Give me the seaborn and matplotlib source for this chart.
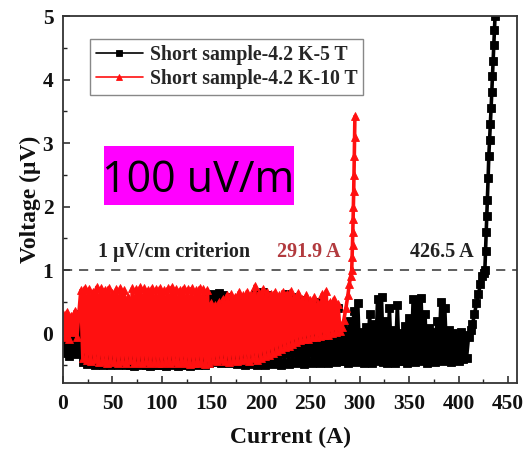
import numpy as np
import pandas as pd
import matplotlib
matplotlib.use("Agg")
import matplotlib.pyplot as plt
from matplotlib.patches import Rectangle
import seaborn as sns

sns.set_theme(style="white")
plt.rcParams["font.family"] = ["Liberation Serif", "DejaVu Serif"]
plt.rcParams["font.weight"] = "bold"

# ---- 5 T run: flat noisy baseline sampled every 2 A, then the transition ----
i5_noise = np.arange(0, 411, 2)
v5_noise = [
    -0.12, -0.30, -0.15, -0.35, -0.10, -0.28, -0.18, -0.33, -0.20,
    0.30, -0.45, 0.25, -0.48, 0.35, -0.46, 0.28, -0.49, 0.32, -0.47, 0.20, -0.50, 0.30, -0.48, 0.26, -0.49, 0.33, -0.47, 0.29, -0.50,
    0.31, -0.48, 0.27, -0.50, 0.34, -0.49, 0.25, -0.51, 0.30, -0.48, 0.28, -0.50, 0.32, -0.49, 0.26, -0.51, 0.30, -0.50, 0.27, -0.49,
    0.33, -0.50, 0.29, -0.51, 0.31, -0.48, 0.26, -0.50, 0.34, -0.51, 0.30, -0.49, 0.28, -0.50, 0.32, -0.51, 0.27, -0.48, 0.30, -0.50,
    0.35, -0.47, 0.45, -0.50, 0.55, -0.46,
    0.62, -0.45, 0.58, -0.43, 0.64, -0.46, 0.60, -0.44, 0.57, -0.47, 0.52,
    -0.45, 0.40, -0.48, 0.45, -0.46, 0.50, -0.49, 0.42, -0.47, 0.55, -0.48, 0.62, -0.50, 0.58, -0.47, 0.66, -0.49, 0.60, -0.46, 0.52,
    -0.48, 0.45, -0.47, 0.50, -0.49, 0.55, -0.46, 0.62, -0.48, 0.58, -0.45, 0.50, -0.47, 0.46, -0.44, 0.52, -0.48, 0.40, -0.45, 0.48,
    -0.46, 0.42, -0.44, 0.50, -0.47, 0.45, -0.43, 0.38, -0.46, 0.44, -0.42, 0.35, -0.45, 0.40, -0.43,
    0.10, -0.44, 0.05, -0.46, 0.20, -0.42, 0.35, -0.45, 0.48, -0.40,
    0.02, -0.47, 0.10, -0.43, 0.30, -0.46, 0.15, -0.44, 0.55, -0.42,
    0.57, -0.45, 0.20, -0.47, 0.40, -0.41, 0.05, -0.46, 0.45, -0.43,
    0.00, -0.44, 0.12, -0.47, 0.25, -0.42, 0.55, -0.45, 0.50, -0.40,
    0.56, -0.44, 0.30, -0.46, 0.08, -0.43, 0.02, -0.45, 0.20, -0.41,
    0.49, -0.44, 0.40, -0.42, 0.05, -0.45, 0.00, -0.40, -0.05, -0.43,
    0.02, -0.40, -0.02, -0.38, -0.05,
]
i5_rise = [412, 414, 416, 418, 420, 422, 424, 425.5, 426.5, 427.2, 427.8, 428.4,
           429.0, 429.8, 430.5, 431.3, 432.0, 432.8, 433.5, 434.2, 434.9, 435.6, 436.2, 436.8]
v5_rise = [0.05, 0.15, 0.30, 0.48, 0.62, 0.78, 0.90, 0.96, 1.00, 1.30, 1.60, 1.85,
           2.10, 2.45, 2.80, 3.05, 3.30, 3.55, 3.80, 4.05, 4.30, 4.55, 4.78, 5.00]

# ---- 10 T run ----
i10_noise = np.arange(0, 281, 2)
v10_noise = [
    0.30, -0.05, 0.34, -0.08, 0.28, 0.02, 0.35, -0.06, 0.32,
    0.68, -0.38, 0.72, -0.42, 0.70, -0.44, 0.66, -0.40, 0.73, -0.45,
    0.71, -0.43, 0.69, -0.46, 0.72, -0.41, 0.64, -0.45, 0.70, -0.47,
    0.72, -0.44, 0.68, -0.46, 0.58, -0.42, 0.71, -0.47, 0.70, -0.45,
    0.73, -0.46, 0.71, -0.44, 0.69, -0.47, 0.72, -0.45, 0.70, -0.46,
    0.72, -0.47, 0.68, -0.45, 0.71, -0.46, 0.73, -0.44, 0.70, -0.47,
    0.69, -0.45, 0.72, -0.46, 0.70, -0.48, 0.71, -0.46, 0.68, -0.47,
    0.72, -0.45, 0.70, -0.48, 0.69, -0.46,
    0.48, -0.42, 0.45, -0.44, 0.50, -0.40, 0.55, -0.43, 0.60, -0.45,
    0.62, -0.41, 0.58, -0.44, 0.65, -0.42, 0.60, -0.40, 0.66, -0.43,
    0.62, -0.39, 0.75, -0.41, 0.64, -0.38,
    0.70, -0.36, 0.66, -0.34, 0.62, -0.30, 0.65, -0.27, 0.60, -0.25,
    0.66, -0.22, 0.63, -0.20, 0.67, -0.16, 0.58, -0.13, 0.64, -0.11,
    0.55, -0.09, 0.60, -0.08, 0.52, -0.06, 0.57, -0.05, 0.48, -0.04,
    0.62, -0.03, 0.67, -0.02, 0.50, 0.00, 0.55, 0.02, 0.46, 0.04,
]
i10_rise = [282, 284, 286, 288, 289.5, 290.8, 291.9, 292.3, 292.7, 293.0, 293.3,
            293.6, 293.9, 294.2, 294.5, 294.8, 295.1]
v10_rise = [0.10, 0.22, 0.40, 0.60, 0.78, 0.90, 1.00, 1.20, 1.40, 1.60, 1.80,
            2.00, 2.25, 2.50, 2.80, 3.10, 3.42]

labels = ["Short sample-4.2 K-5 T", "Short sample-4.2 K-10 T"]
ic_values = [426.5, 291.9]
criterion = 1.0

df5 = pd.DataFrame({"Current": np.concatenate([i5_noise, i5_rise]),
                    "Voltage": np.concatenate([v5_noise, v5_rise])})
df10 = pd.DataFrame({"Current": np.concatenate([i10_noise, i10_rise]),
                     "Voltage": np.concatenate([v10_noise, v10_rise])})

fig = plt.figure(figsize=(5.26, 4.49), dpi=100)
ax = fig.add_axes([0.1198, 0.147, 0.8631, 0.817])

sns.lineplot(data=df5, x="Current", y="Voltage", ax=ax, sort=False, estimator=None,
             color="black", lw=2.6, marker="s", markersize=5.2, markeredgewidth=0.6,
             markeredgecolor="black", label=labels[0])
sns.lineplot(data=df10, x="Current", y="Voltage", ax=ax, sort=False, estimator=None,
             color="#ff1010", lw=2.6, marker="^", markersize=6, markeredgewidth=0.6,
             markeredgecolor="#ff1010", label=labels[1])

ax.axhline(criterion, color="#333333", lw=1.1, ls=(0, (6, 4.5)), zorder=1)

ax.set_xlim(0, 459)
ax.set_ylim(-0.78, 5.0)
ax.set_xticks(np.arange(0, 451, 50))
ax.set_xticks(np.arange(0, 459, 25), minor=True)
ax.set_yticks(np.arange(0, 6, 1))
ax.set_yticks(np.arange(-0.5, 5.01, 0.5), minor=True)
ax.tick_params(which="both", direction="in", bottom=True, left=True, top=False, right=False,
               colors="#222222", labelsize=15.5, labelcolor="#111111")
ax.tick_params(which="major", length=5, width=1.1)
ax.tick_params(axis="x", which="major", pad=8)
ax.tick_params(axis="y", which="major", pad=7)
ax.tick_params(which="minor", length=3, width=1.0)
for lab in ax.get_xticklabels() + ax.get_yticklabels():
    lab.set_fontweight("bold")

for s in ax.spines.values():
    s.set_color("#333333")
    s.set_linewidth(1.3)

ax.set_xlabel("Current (A)", fontsize=17, fontweight="bold", labelpad=9, color="#111111")
ax.set_ylabel("Voltage (\u03bcV)", fontsize=17, fontweight="bold", labelpad=1, color="#111111")

ax.text(35, 1.12, "1 \u03bcV/cm criterion", fontsize=14.5, fontweight="bold",
        color="#222222", va="bottom", ha="left")
ax.text(ic_values[1] - 11, 1.12, f"{ic_values[1]} A", fontsize=14.5, fontweight="bold",
        color="#b23a3e", va="bottom", ha="right")
ax.text(ic_values[0] - 11, 1.12, f"{ic_values[0]} A", fontsize=14.5, fontweight="bold",
        color="#222222", va="bottom", ha="right")

leg = ax.legend(loc="upper left", bbox_to_anchor=(0.059, 0.937), fontsize=14.2,
                frameon=True, fancybox=False, edgecolor="#888888", framealpha=1,
                handlelength=2.4, handletextpad=0.35, borderpad=0.3, labelspacing=0.2,
                borderaxespad=0)
leg.get_frame().set_linewidth(1.0)
for t in leg.get_texts():
    t.set_fontweight("bold")
for h in leg.legend_handles:
    h.set_linewidth(1.2)
    h.set_markersize(5)

fig.patches.append(Rectangle((0.1977, 0.5434), 0.3612, 0.1314, transform=fig.transFigure,
                             facecolor="#ff00ff", edgecolor="none", zorder=5))
fig.text(0.3774, 0.5724, "100 uV/m", fontsize=31, family=["Open Sans", "DejaVu Sans"],
         fontweight="normal", color="black", ha="center", va="baseline", zorder=6)

fig.savefig("out.png", dpi=100)
